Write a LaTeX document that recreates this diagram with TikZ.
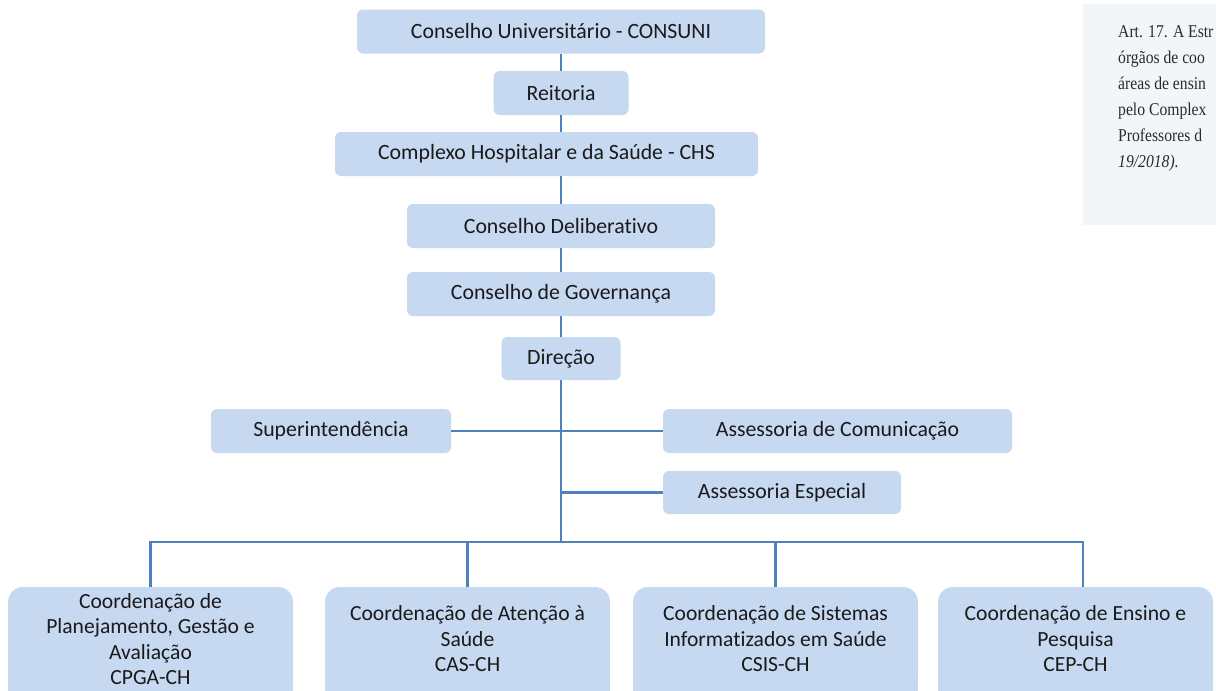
\documentclass[tikz,border=0pt]{standalone}
\usepackage{fontspec}
\setmainfont{Carlito}[Ligatures=NoCommon]
\newfontfamily\serifx{Liberation Serif}[FakeStretch=0.87]
\usetikzlibrary{backgrounds}
\definecolor{boxfill}{HTML}{C6D9F1}
\definecolor{linec}{HTML}{4F81BD}
\definecolor{notefill}{HTML}{F3F6F9}
\definecolor{textc}{HTML}{1A1A1A}
\definecolor{notetc}{HTML}{2A2A2A}
\begin{document}
\begin{tikzpicture}[x=1pt,y=-1pt,
  orgbox/.style={fill=boxfill, rounded corners=6pt, inner sep=0pt, font=\fontsize{21.8}{26}\selectfont, text=textc},
  coordbox/.style={fill=boxfill, rounded corners=15pt, inner sep=0pt, align=center, font=\fontsize{21.6}{25.5}\selectfont, text=textc, minimum width=285pt, minimum height=104pt},
  link/.style={draw=linec, line width=2.6pt},
  notetext/.style={anchor=base west, inner sep=0pt, font=\serifx\fontsize{18}{22}\selectfont, text=notetc}]
\useasboundingbox (0,0) rectangle (1216,691);
\clip (0,0) rectangle (1216,691);

% note box on the right
\fill[notefill] (1083,3.5) rectangle (1230,225);
\node[notetext] (n1) at (1118,37) {Art. 17. A Estr};
\node[notetext] (n2) at (1118,63) {órgãos de coo};
\node[notetext] (n3) at (1118,89) {áreas de ensin};
\node[notetext] (n4) at (1118,115) {pelo Complex};
\node[notetext] (n5) at (1118,141) {Professores d};
\node[notetext, font=\serifx\itshape\fontsize{18}{22}\selectfont] (n6) at (1118,167) {19/2018).};

% org boxes
\node[orgbox, minimum width=408pt, minimum height=44pt] (consuni) at (561,31.5) {Conselho Universitário - CONSUNI};
\node[orgbox, minimum width=135pt, minimum height=44pt] (reitoria) at (561,93) {Reitoria};
\node[orgbox, minimum width=423pt, minimum height=44pt] (chs) at (546.5,154) {Complexo Hospitalar e da Saúde - CHS};
\node[orgbox, minimum width=308pt, minimum height=44pt] (delib) at (561,226) {Conselho Deliberativo};
\node[orgbox, minimum width=308pt, minimum height=44pt] (gov) at (561,294) {Conselho de Governança};
\node[orgbox, minimum width=119pt, minimum height=43pt] (direcao) at (561,358.5) {Direção};
\node[orgbox, minimum width=240pt, minimum height=44pt] (super) at (331,431) {Superintendência};
\node[orgbox, minimum width=349pt, minimum height=44pt] (comun) at (837.5,431) {Assessoria de Comunicação};
\node[orgbox, minimum width=238pt, minimum height=43pt] (especial) at (782,492.5) {Assessoria Especial};

\node[coordbox] (cpga) at (150.5,639) {Coordenação de\\Planejamento, Gestão e\\Avaliação\\CPGA-CH};
\node[coordbox] (cas) at (467.5,639) {Coordenação de Atenção à\\Saúde\\CAS-CH};
\node[coordbox] (csis) at (775.5,639) {Coordenação de Sistemas\\Informatizados em Saúde\\CSIS-CH};
\node[coordbox, minimum width=275pt] (cep) at (1075.5,639) {Coordenação de Ensino e\\Pesquisa\\CEP-CH};

\begin{scope}[on background layer]
\foreach \n in {cpga,cas,csis,cep} \fill[boxfill] (\n.west) rectangle (\n.south east);
\end{scope}

% connectors
\draw[link] (consuni.south) -- (consuni.south |- reitoria.north);
\draw[link] (reitoria.south) -- (reitoria.south |- chs.north);
\draw[link] (reitoria.south |- chs.south) -- (delib.north);
\draw[link] (delib.south) -- (gov.north);
\draw[link] (gov.south) -- (direcao.north);
\coordinate (hub) at (561,542);
\draw[link] (direcao.south) -- (hub);
\draw[link] (super.east) -- (comun.west);
\draw[link] (especial.west) -- (especial.west -| hub);
\coordinate (busl) at (150.5,542);
\coordinate (busr) at (1083,542);
\draw[link] (busl |- cpga.north) -- (busl) -- (busr) -- (busr |- cep.north);
\draw[link] (cas.north) -- (cas.north |- busl);
\draw[link] (csis.north) -- (csis.north |- busl);
\end{tikzpicture}
\end{document}
